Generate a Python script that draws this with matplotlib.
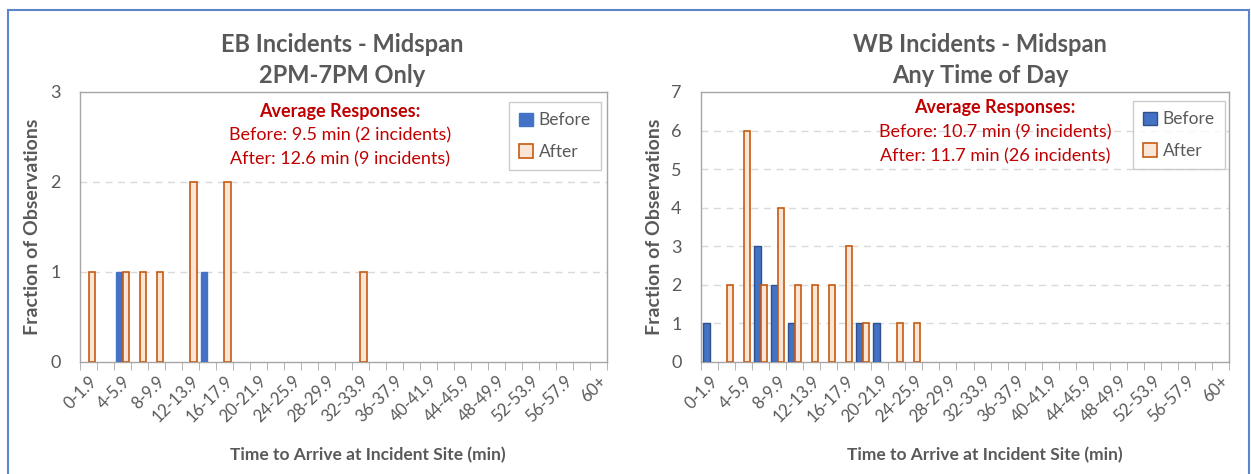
import numpy as np
import matplotlib
matplotlib.use("Agg")
import matplotlib.pyplot as plt
from matplotlib.patches import Rectangle

plt.rcParams['font.family'] = ['Lato', 'DejaVu Sans']

# bins of 2 minutes, then 60+
bins = [f"{a}-{a+1}.9" for a in range(0, 60, 2)] + ["60+"]

eb_before = [0, 0, 1, 0, 0, 0, 0, 1] + [0] * 23
eb_after = [1, 0, 1, 1, 1, 0, 2, 0, 2, 0, 0, 0, 0, 0, 0, 0, 1] + [0] * 14
wb_before = [1, 0, 0, 3, 2, 1, 0, 0, 0, 1, 1] + [0] * 20
wb_after = [0, 2, 6, 2, 4, 2, 2, 2, 3, 1, 0, 1, 1] + [0] * 18

eb_title = "EB Incidents - Midspan\n2PM-7PM Only"
wb_title = "WB Incidents - Midspan\nAny Time of Day"
eb_note = ["Before: 9.5 min (2 incidents)", "After: 12.6 min (9 incidents)"]
wb_note = ["Before: 10.7 min (9 incidents)", "After: 11.7 min (26 incidents)"]

W, H = 1251, 474
fig = plt.figure(figsize=(W / 100, H / 100), dpi=100)

gray = '#595959'
red = '#C00000'
blue = '#4472C4'
orange_edge = '#C55A11'
orange_fill = '#FBE5D6'


def fx(px):
    return px / W


def fy(py):
    return 1 - py / H


def panel(left, right, before, after, ymax, blue_edge, title_x, title, note_x, note_y, note,
          leg_box, xlab_x):
    ax = fig.add_axes([fx(left), fy(362), fx(right) - fx(left), fy(92) - fy(362)])
    x = np.arange(len(bins))
    w = 0.38
    b = np.array(before)
    a = np.array(after)
    # skip empty bins so no edge line is drawn on the baseline
    ax.bar(x[b > 0] - w / 2, b[b > 0], width=w, color=blue, edgecolor=blue_edge,
           linewidth=1.0, label='Before', zorder=3)
    ax.bar(x[a > 0] + w / 2, a[a > 0], width=w, color=orange_fill, edgecolor=orange_edge,
           linewidth=1.2, label='After', zorder=3)
    ax.set_xlim(-0.5, len(bins) - 0.5)
    ax.set_ylim(0, ymax)
    ax.set_yticks(range(ymax + 1))
    for v in range(1, ymax):
        ax.axhline(v, color='#D9D9D9', linestyle=(0, (5, 4)), linewidth=1.0, zorder=1)
    ax.set_xticks(x[::2])
    ax.set_xticklabels(bins[::2], rotation=45, ha='right', rotation_mode='anchor')
    ax.set_xticks(np.arange(-0.5, len(bins)), minor=True)
    ax.tick_params(axis='x', which='major', length=0, labelsize=12, labelcolor=gray, pad=8)
    ax.tick_params(axis='x', which='minor', length=6, color='#A6A6A6', direction='out')
    ax.tick_params(axis='y', length=0, labelsize=13, labelcolor=gray, pad=14)
    for s in ax.spines.values():
        s.set_color('#A6A6A6')
        s.set_linewidth(1.0)
    leg = ax.legend(loc='upper left', bbox_to_anchor=(fx(leg_box[0]), fy(leg_box[1])),
                    bbox_transform=fig.transFigure, fontsize=12.5, frameon=True, fancybox=False,
                    edgecolor='#BFBFBF', handlelength=0.8, handleheight=0.8, handletextpad=0.3,
                    labelspacing=0.9, borderpad=0.6, borderaxespad=0, labelcolor=gray)
    leg.get_frame().set_linewidth(1.0)
    fig.text(fx(title_x), fy(60), title, ha='center', va='center', fontsize=17,
             fontweight='bold', color=gray, linespacing=1.4)
    fig.text(fx(note_x), fy(note_y), "Average Responses:", ha='center', va='center',
             fontsize=13, fontweight='bold', color=red)
    fig.text(fx(note_x), fy(note_y + 24), note[0], ha='center', va='center', fontsize=13,
             color=red)
    fig.text(fx(note_x), fy(note_y + 48), note[1], ha='center', va='center', fontsize=13,
             color=red)
    fig.text(fx(left - 47), fy(227), "Fraction of Observations", rotation=90, ha='center',
             va='center', fontsize=14, fontweight='bold', color=gray)
    fig.text(fx(xlab_x), fy(455), "Time to Arrive at Incident Site (min)", ha='center',
             va='center', fontsize=12.5, fontweight='bold', color=gray)
    return ax


panel(80, 607, eb_before, eb_after, 3, blue, 342, eb_title, 340, 111, eb_note,
      (509, 102), 368)
panel(701, 1229, wb_before, wb_after, 7, '#2F528F', 980, wb_title, 995, 108, wb_note,
      (1133, 101), 985)

fig.patches.append(Rectangle((fx(8), fy(500)), fx(1241), fy(10) - fy(500), fill=False,
                             edgecolor='#5B87C9', linewidth=1.5, transform=fig.transFigure))

fig.savefig('out.png', dpi=100)
